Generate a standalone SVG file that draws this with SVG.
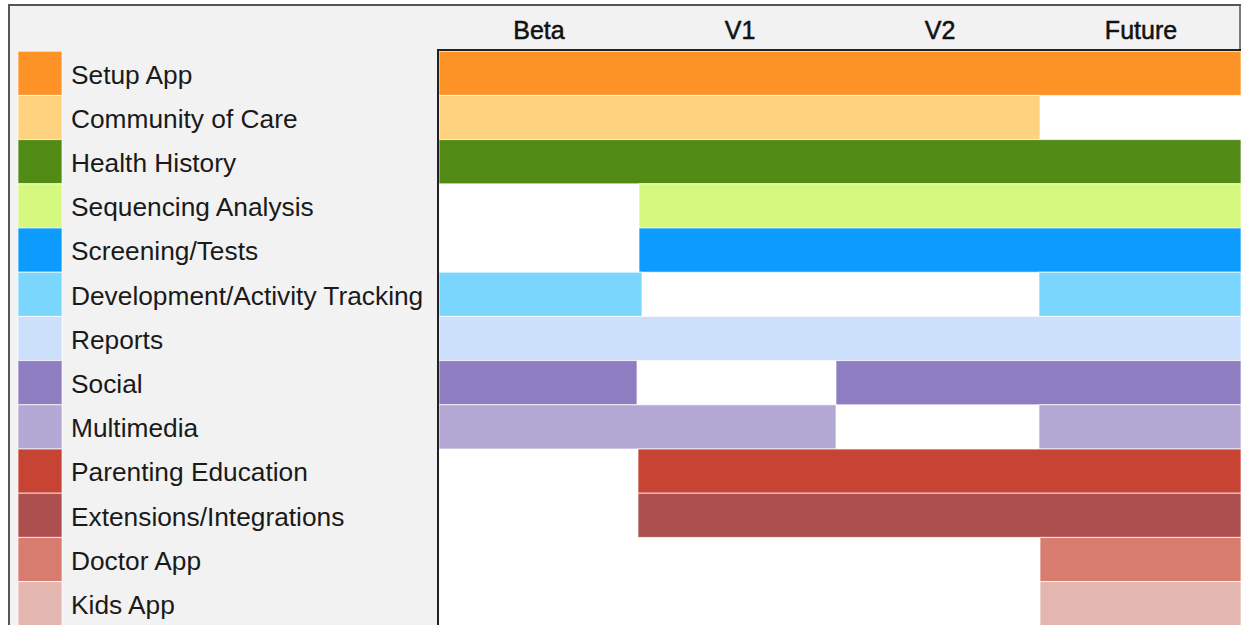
<svg xmlns="http://www.w3.org/2000/svg" width="1241" height="625" viewBox="0 0 1241 625">
<style>
.lbl{font-family:"Liberation Sans",Arial,sans-serif;font-size:26.3px;fill:#1a1a1a}
.hdr{font-family:"Liberation Sans",Arial,sans-serif;font-size:25px;fill:#111;stroke:#111;stroke-width:0.5;text-anchor:middle}
.sw{stroke:#ffffff;stroke-opacity:0.7;stroke-width:1}
.c1{fill:#fd9226}.c2{fill:#ffd27f}.c3{fill:#518b16}.c4{fill:#d4f97e}.c5{fill:#0d9cfd}.c6{fill:#7bd6fd}.c7{fill:#cde0fb}.c8{fill:#8e7ec1}.c9{fill:#b3a8d4}.c10{fill:#c74434}.c11{fill:#ad4f4e}.c12{fill:#d97c70}.c13{fill:#e3b7b0}
</style>
<rect x="0" y="0" width="1241" height="625" fill="#ffffff"/>
<rect x="9" y="5" width="1240" height="630" fill="#f2f2f2" stroke="#555" stroke-width="2"/>
<rect x="439" y="51" width="802" height="580" fill="#ffffff"/>
<g id="header">
<line x1="1240" y1="5" x2="1240" y2="50" stroke="#555" stroke-width="1.5"/>
<text class="hdr" x="539" y="39">Beta</text>
<text class="hdr" x="740" y="39">V1</text>
<text class="hdr" x="940" y="39">V2</text>
<text class="hdr" x="1141" y="39">Future</text>
</g>
<g id="row-setup-app">
<rect class="c1 sw" x="18" y="51.2" width="44" height="44.2"/>
<text class="lbl" x="71" y="83.6">Setup App</text>
<rect class="c1 sw" x="439" y="51.2" width="802" height="44.2"/>
</g>
<g id="row-community-of-care">
<rect class="c2 sw" x="18" y="95.4" width="44" height="44.2"/>
<text class="lbl" x="71" y="127.8">Community of Care</text>
<rect class="c2 sw" x="439" y="95.4" width="601" height="44.2"/>
</g>
<g id="row-health-history">
<rect class="c3 sw" x="18" y="139.6" width="44" height="44.2"/>
<text class="lbl" x="71" y="172">Health History</text>
<rect class="c3 sw" x="439" y="139.6" width="802" height="44.2"/>
</g>
<g id="row-sequencing-analysis">
<rect class="c4 sw" x="18" y="183.8" width="44" height="44.2"/>
<text class="lbl" x="71" y="216.2">Sequencing Analysis</text>
<rect class="c4 sw" x="639" y="183.8" width="602" height="44.2"/>
</g>
<g id="row-screening-tests">
<rect class="c5 sw" x="18" y="228" width="44" height="44.2"/>
<text class="lbl" x="71" y="260.4">Screening/Tests</text>
<rect class="c5 sw" x="639" y="228" width="602" height="44.2"/>
</g>
<g id="row-development-activity-tracking">
<rect class="c6 sw" x="18" y="272.2" width="44" height="44.2"/>
<text class="lbl" x="71" y="304.6">Development/Activity Tracking</text>
<rect class="c6 sw" x="439" y="272.2" width="203" height="44.2"/>
<rect class="c6 sw" x="1039" y="272.2" width="202" height="44.2"/>
</g>
<g id="row-reports">
<rect class="c7 sw" x="18" y="316.4" width="44" height="44.2"/>
<text class="lbl" x="71" y="348.8">Reports</text>
<rect class="c7 sw" x="439" y="316.4" width="802" height="44.2"/>
</g>
<g id="row-social">
<rect class="c8 sw" x="18" y="360.6" width="44" height="44.2"/>
<text class="lbl" x="71" y="393">Social</text>
<rect class="c8 sw" x="439" y="360.6" width="198" height="44.2"/>
<rect class="c8 sw" x="836" y="360.6" width="405" height="44.2"/>
</g>
<g id="row-multimedia">
<rect class="c9 sw" x="18" y="404.8" width="44" height="44.2"/>
<text class="lbl" x="71" y="437.2">Multimedia</text>
<rect class="c9 sw" x="439" y="404.8" width="397" height="44.2"/>
<rect class="c9 sw" x="1039" y="404.8" width="202" height="44.2"/>
</g>
<g id="row-parenting-education">
<rect class="c10 sw" x="18" y="449" width="44" height="44.2"/>
<text class="lbl" x="71" y="481.4">Parenting Education</text>
<rect class="c10 sw" x="638" y="449" width="603" height="44.2"/>
</g>
<g id="row-extensions-integrations">
<rect class="c11 sw" x="18" y="493.2" width="44" height="44.2"/>
<text class="lbl" x="71" y="525.6">Extensions/Integrations</text>
<rect class="c11 sw" x="638" y="493.2" width="603" height="44.2"/>
</g>
<g id="row-doctor-app">
<rect class="c12 sw" x="18" y="537.4" width="44" height="44.2"/>
<text class="lbl" x="71" y="569.8">Doctor App</text>
<rect class="c12 sw" x="1040" y="537.4" width="201" height="44.2"/>
</g>
<g id="row-kids-app">
<rect class="c13 sw" x="18" y="581.6" width="44" height="44.2"/>
<text class="lbl" x="71" y="614">Kids App</text>
<rect class="c13 sw" x="1040" y="581.6" width="201" height="44.2"/>
</g>
<g id="connectors">
<line x1="438" y1="50" x2="1241" y2="50" stroke="#222" stroke-width="2"/>
<line x1="438" y1="49" x2="438" y2="625" stroke="#222" stroke-width="2"/>
</g>
</svg>
